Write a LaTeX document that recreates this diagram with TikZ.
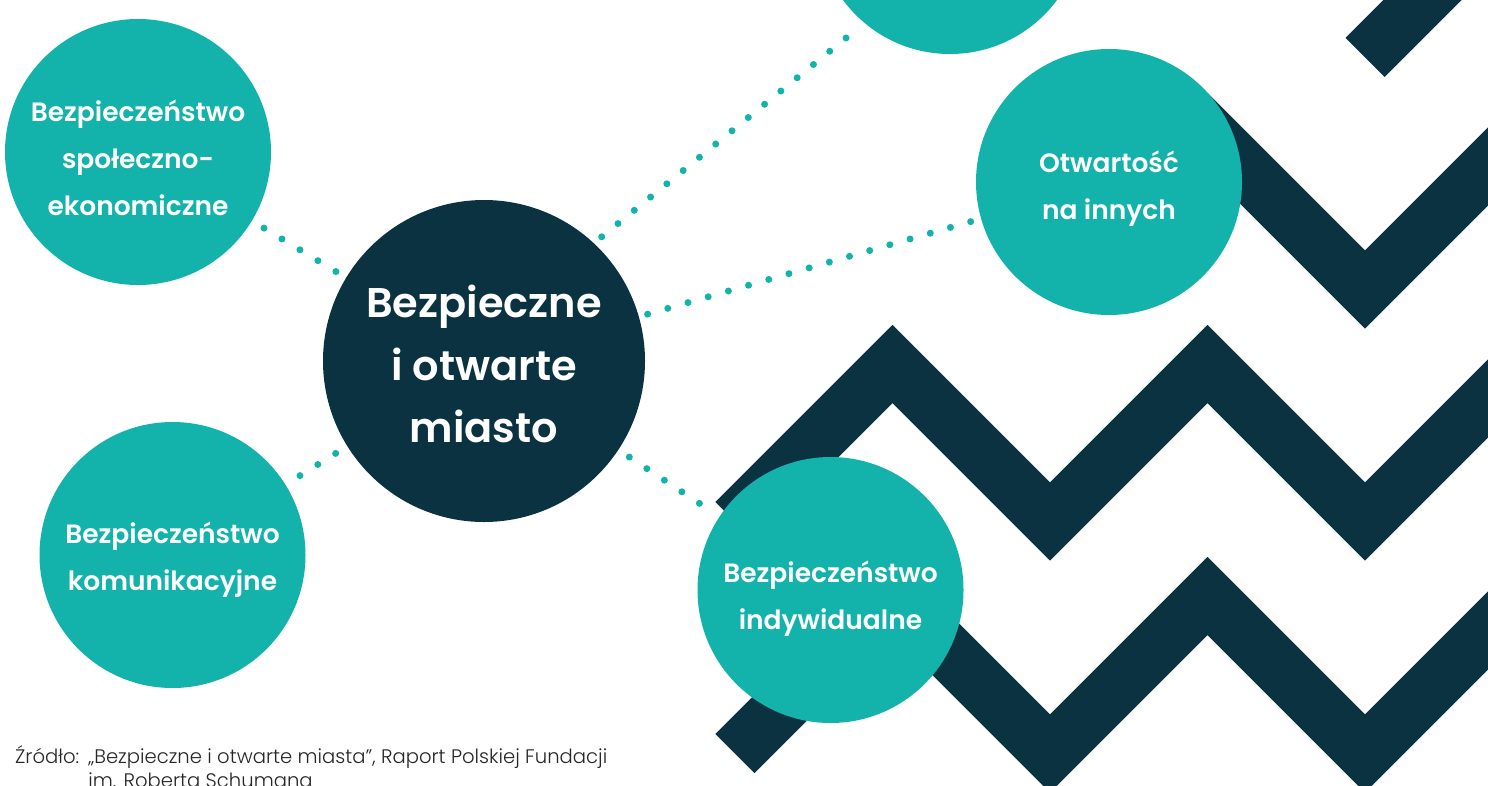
\documentclass[tikz,border=0pt]{standalone}
\usepackage{fontspec}
\setmainfont{Poppins}[UprightFont=* Medium, BoldFont=* SemiBold]
\newfontfamily\lightfont{Poppins}[UprightFont=* Light]
\definecolor{cteal}{HTML}{13B2AA}
\definecolor{cnavy}{HTML}{0A3240}
\definecolor{csrc}{HTML}{262626}

\begin{document}
\begin{tikzpicture}[x=1pt,y=-1pt,
  bubble/.style={circle, fill=cteal, inner sep=0pt, minimum size=266pt},
  hub/.style={circle, fill=cnavy, inner sep=0pt, minimum size=322pt},
  bubbletext/.style={text=white, inner sep=0pt, align=center,
    font=\bfseries\fontsize{26.5}{47}\selectfont},
  hubtext/.style={text=white, inner sep=0pt, align=center,
    font=\bfseries\fontsize{41.5}{62.5}\selectfont},
  dotline/.style={cteal, line width=7pt, line cap=round,
    dash pattern=on 0pt off 21pt},
  band/.style={cnavy, line width=55.2pt, line join=miter, line cap=butt}]

\useasboundingbox (0,0) rectangle (1488,785);
\begin{scope}
\clip (0,0) rectangle (1488,785);

% zigzag bands in the background
\draw[band] (1365,57.5) -- (1522.5,-100);
\draw[band] (1070,269.5) -- (1207.5,132) -- (1365,289.5) -- (1522.5,132) -- (1680,289.5);
\draw[band] (735,521.5) -- (892.5,364) -- (1050,521.5) -- (1207.5,364)
  -- (1365,521.5) -- (1522.5,364) -- (1680,521.5);
\draw[band] (735,753.5) -- (892.5,596) -- (1050,753.5) -- (1207.5,596)
  -- (1365,753.5) -- (1522.5,596) -- (1680,753.5);

% circles
\node[hub] (hub) at (484,361) {};
\node[bubble] (top) at (950,-79) {};
\node[bubble] (soc) at (138,152) {};
\node[bubble] (otw) at (1109,182) {};
\node[bubble] (kom) at (172.5,555) {};
\node[bubble] (ind) at (830.5,590) {};

% circle captions
\node[hubtext] (hubT) at (484,364) {Bezpieczne\\i otwarte\\miasto};
\node[bubbletext] (socT) at (138,158) {Bezpieczeństwo\\społeczno-\\ekonomiczne};
\node[bubbletext] (otwT) at (1109,189) {Otwartość\\na innych};
\node[bubbletext] (komT) at (172.5,560) {Bezpieczeństwo\\komunikacyjne};
\node[bubbletext] (indT) at (830.5,599) {Bezpieczeństwo\\indywidualne};

% dotted links
\draw[dotline, shorten <=14pt, shorten >=10pt] (soc) -- (hub);
\draw[dotline, shorten <=10pt, shorten >=17pt] (hub.47) -- (top.230);
\draw[dotline, shorten <=9pt, shorten >=6pt] (hub) -- (otw);
\draw[dotline, shorten <=17pt, shorten >=11pt] (kom) -- (hub);
\draw[dotline, shorten <=13pt, shorten >=3pt] (hub) -- (ind);

% source note
\node[anchor=base west, inner sep=0pt, text=csrc,
  font=\lightfont\fontsize{19.6}{24}\selectfont] (src) at (15,763)
  {\begin{tabular}[t]{@{}l@{\hspace{9pt}}l@{}}
   Źródło: & „Bezpieczne i otwarte miasta”, Raport Polskiej Fundacji\\
           & im. Roberta Schumana
   \end{tabular}};
\end{scope}
\end{tikzpicture}
\end{document}
